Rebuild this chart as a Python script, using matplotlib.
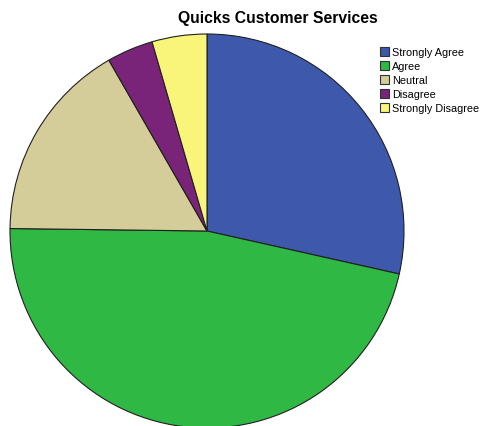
import matplotlib.pyplot as plt
from matplotlib.patches import Patch

# Survey answers (percent of respondents)
labels = ['Strongly Agree', 'Agree', 'Neutral', 'Disagree', 'Strongly Disagree']
shares = [28.5, 46.7, 16.5, 3.8, 4.5]
colors = ['#3e58ac', '#2fb844', '#d5cd99', '#7a2479', '#f8f57a']

W, H = 481, 427
fig = plt.figure(figsize=(W / 100, H / 100), dpi=100)
fig.patch.set_facecolor('white')

# pie centre and radius in pixels
cx, cy, r = 207, 232, 197
ax = fig.add_axes([(cx - r) / W, (H - cy - r) / H, 2 * r / W, 2 * r / H])
ax.pie(shares, colors=colors, startangle=90, counterclock=False,
       wedgeprops=dict(edgecolor='#202020', linewidth=0.8))
ax.set_xlim(-1, 1)
ax.set_ylim(-1, 1)
ax.set_aspect('equal')
ax.axis('off')

fig.text(278 / W, 1 - 18 / H, 'Quicks Customer Services', ha='center', va='center',
         fontsize=11.3, fontweight='bold', family='Liberation Sans')

handles = [Patch(facecolor=c, edgecolor='#303030', linewidth=0.8) for c in colors]
fig.legend(handles, labels, loc='upper left', bbox_to_anchor=(380 / W, 1 - 48 / H),
           frameon=False, prop={'family': 'Liberation Sans', 'size': 7.8},
           handlelength=0.85, handleheight=0.85, handletextpad=0.25,
           labelspacing=0.36, borderpad=0, borderaxespad=0)

fig.savefig('out.png', dpi=100)
